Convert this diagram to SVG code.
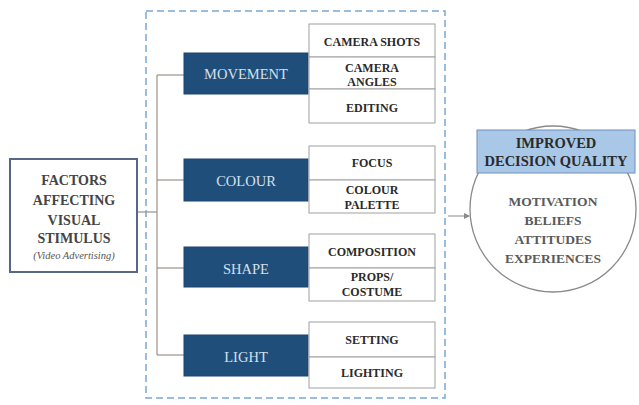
<svg xmlns="http://www.w3.org/2000/svg" width="639" height="405" viewBox="0 0 639 405">
<style>
.bg{fill:#ffffff}
.dash{fill:none;stroke:#7aa6d2;stroke-width:1.5;stroke-dasharray:7,4}
.src{fill:#ffffff;stroke:#5a6688;stroke-width:2}
.cat{fill:#1f4e7a;stroke:#1a4470;stroke-width:1}
.sub{fill:#ffffff;stroke:#a0a0a0;stroke-width:1}
.ln{fill:none;stroke:#9a918a;stroke-width:1.2}
text{font-family:"Liberation Serif","Times New Roman",serif;text-anchor:middle}
.srct{font-size:14px;font-weight:bold;fill:#444444}
.catt{font-size:14.5px;fill:#d6e0ec}
.subt{font-size:12px;font-weight:bold;fill:#2a2a2a}
.hdr{fill:#a9c8e8;stroke:#6f90b8;stroke-width:1}
.hdrt{font-size:14.5px;font-weight:bold;fill:#2a2a2a}
.circ{fill:#ffffff;stroke:#8a8a8a;stroke-width:1.3}
.ct{font-size:13.5px;font-weight:bold;fill:#5a5a5a}
</style>
<defs>
<marker id="ah" markerWidth="6" markerHeight="6" refX="5" refY="3" orient="auto" markerUnits="userSpaceOnUse">
<path d="M0,0 L6,3 L0,6 z" fill="#8a8a8a"/>
</marker>
</defs>
<rect class="bg" x="0" y="0" width="639" height="405"/>
<rect class="dash" x="146" y="11" width="299" height="387"/>
<g id="connectors">
<line class="ln" x1="137" y1="212" x2="157" y2="212"/>
<line class="ln" x1="157" y1="75" x2="157" y2="355"/>
<line class="ln" x1="157" y1="75" x2="184" y2="75"/>
<line class="ln" x1="157" y1="180" x2="184" y2="180"/>
<line class="ln" x1="157" y1="268" x2="184" y2="268"/>
<line class="ln" x1="157" y1="355" x2="184" y2="355"/>
<line x1="448" y1="216" x2="469" y2="216" stroke="#8a8a8a" stroke-width="1" marker-end="url(#ah)"/>
</g>
<g id="factors">
<rect class="src" x="10" y="159" width="127" height="113"/>
<text class="srct" x="74" y="185">FACTORS</text>
<text class="srct" x="74" y="205">AFFECTING</text>
<text class="srct" x="74" y="225">VISUAL</text>
<text class="srct" x="74" y="243">STIMULUS</text>
<text x="74" y="259" font-size="10.5px" font-style="italic" fill="#555">(Video Advertising)</text>
</g>
<g id="movement">
<rect class="cat" x="184" y="53" width="124" height="41"/>
<text class="catt" x="246" y="79">MOVEMENT</text>
</g>
<g id="movement-subs">
<rect class="sub" x="309" y="24" width="126" height="33"/>
<text class="subt" x="372" y="46">CAMERA SHOTS</text>
<rect class="sub" x="309" y="57" width="126" height="32"/>
<text class="subt" x="372" y="72">CAMERA</text>
<text class="subt" x="372" y="86">ANGLES</text>
<rect class="sub" x="309" y="89" width="126" height="34"/>
<text class="subt" x="372" y="112">EDITING</text>
</g>
<g id="colour">
<rect class="cat" x="184" y="159" width="124" height="42"/>
<text class="catt" x="246" y="186">COLOUR</text>
</g>
<g id="colour-subs">
<rect class="sub" x="309" y="146" width="126" height="34"/>
<text class="subt" x="372" y="167">FOCUS</text>
<rect class="sub" x="309" y="180" width="126" height="33"/>
<text class="subt" x="372" y="194">COLOUR</text>
<text class="subt" x="372" y="209">PALETTE</text>
</g>
<g id="shape">
<rect class="cat" x="184" y="247" width="124" height="40"/>
<text class="catt" x="246" y="274">SHAPE</text>
</g>
<g id="shape-subs">
<rect class="sub" x="309" y="234" width="126" height="34"/>
<text class="subt" x="372" y="256">COMPOSITION</text>
<rect class="sub" x="309" y="268" width="126" height="33"/>
<text class="subt" x="372" y="281">PROPS/</text>
<text class="subt" x="372" y="296">COSTUME</text>
</g>
<g id="light">
<rect class="cat" x="184" y="335" width="124" height="41"/>
<text class="catt" x="246" y="362">LIGHT</text>
</g>
<g id="light-subs">
<rect class="sub" x="309" y="322" width="126" height="35"/>
<text class="subt" x="372" y="344">SETTING</text>
<rect class="sub" x="309" y="357" width="126" height="31"/>
<text class="subt" x="372" y="377">LIGHTING</text>
</g>
<g id="outcome">
<circle class="circ" cx="553" cy="209" r="83"/>
<rect class="hdr" x="477" y="130" width="158" height="43"/>
<text class="hdrt" x="556" y="148">IMPROVED</text>
<text class="hdrt" x="556" y="166">DECISION QUALITY</text>
<text class="ct" x="553" y="206">MOTIVATION</text>
<text class="ct" x="553" y="225">BELIEFS</text>
<text class="ct" x="553" y="244">ATTITUDES</text>
<text class="ct" x="553" y="263">EXPERIENCES</text>
</g>
</svg>
